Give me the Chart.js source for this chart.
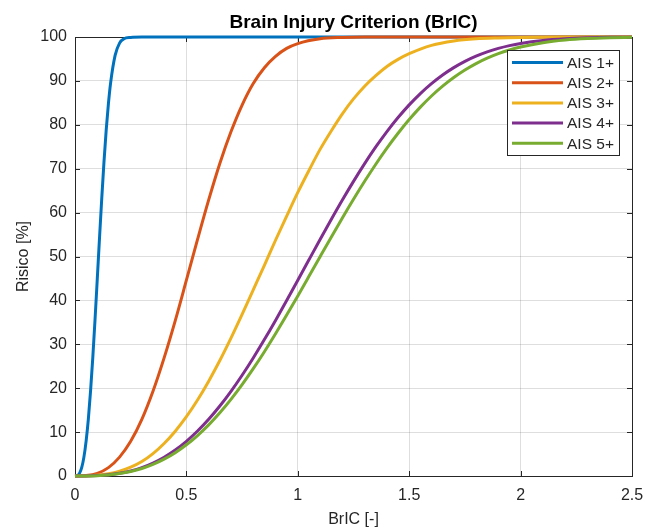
<!DOCTYPE html>
<html>
<head>
<meta charset="utf-8">
<script src="https://cdn.jsdelivr.net/npm/chart.js@4.4.1/dist/chart.umd.min.js"></script>
<style>
  html, body { margin: 0; padding: 0; background: #fff; }
  canvas { display: block; }
</style>
</head>
<body>
<canvas id="chart" width="645" height="532"></canvas>
<script>
// series labels and colours (MATLAB default order)
const chartTitle = 'Brain Injury Criterion (BrIC)';
const seriesLabels = ['AIS 1+', 'AIS 2+', 'AIS 3+', 'AIS 4+', 'AIS 5+'];
const seriesColors = ['#0072BD', '#D95319', '#EDB120', '#7E2F8E', '#77AC30'];

// BrIC values [-] and risk values [%]
const bricAis1 = [0, 0.01, 0.02, 0.03, 0.04, 0.05, 0.06, 0.07, 0.08, 0.09, 0.10, 0.11, 0.12, 0.13, 0.14, 0.15, 0.16, 0.18, 0.20, 0.22, 0.25, 0.30, 2.5];
const riskAis1 = [0, 0.1, 0.6, 1.9, 4.3, 8.0, 13.0, 19.5, 27.1, 35.7, 44.9, 54.2, 63.2, 71.5, 78.8, 84.8, 89.6, 95.8, 98.6, 99.6, 99.9, 100, 100];

const bricAis2 = [0, 0.05, 0.1, 0.15, 0.2, 0.25, 0.3, 0.35, 0.4, 0.45, 0.5, 0.55, 0.6, 0.65, 0.7, 0.75, 0.8, 0.85, 0.9, 0.95, 1.0, 1.1, 1.2, 1.3, 2.5];
const riskAis2 = [0, 0.1, 0.6, 1.9, 4.3, 7.9, 12.9, 19.3, 26.9, 35.4, 44.6, 53.9, 62.9, 71.2, 78.4, 84.5, 89.4, 93.0, 95.6, 97.4, 98.5, 99.6, 99.9, 100, 100];

const bricAis3 = [0, 0.05, 0.1, 0.15, 0.2, 0.25, 0.3, 0.35, 0.4, 0.45, 0.5, 0.55, 0.6, 0.65, 0.7, 0.75, 0.8, 0.85, 0.9, 0.95,
  1.0, 1.05, 1.1, 1.15, 1.2, 1.25, 1.3, 1.35, 1.4, 1.45, 1.5, 1.6, 1.7, 1.8, 1.9, 2.0, 2.2, 2.5];
const riskAis3 = [0, 0.02, 0.15, 0.5, 1.1, 2.0, 3.3, 5.1, 7.4, 10.2, 13.5, 17.3, 21.6, 26.3, 31.4, 36.8, 42.4, 48.0, 53.7, 59.2,
  64.6, 69.6, 74.4, 78.6, 82.5, 85.9, 88.8, 91.2, 93.3, 94.9, 96.2, 98.1, 99.1, 99.6, 99.8, 99.9, 100, 100];

const bricWide = [0, 0.05, 0.1, 0.15, 0.2, 0.25, 0.3, 0.35, 0.4, 0.45, 0.5, 0.55, 0.6, 0.65, 0.7, 0.75, 0.8, 0.85, 0.9, 0.95,
  1.0, 1.05, 1.1, 1.15, 1.2, 1.25, 1.3, 1.35, 1.4, 1.45, 1.5, 1.55, 1.6, 1.65, 1.7, 1.75, 1.8, 1.85, 1.9, 1.95,
  2.0, 2.1, 2.2, 2.3, 2.4, 2.5];
const riskAis4 = [0, 0.01, 0.09, 0.27, 0.61, 1.15, 1.91, 2.95, 4.28, 5.93, 7.91, 10.24, 12.92, 15.94, 19.29, 22.95, 26.89, 31.07, 35.44, 39.96,
  44.58, 49.24, 53.87, 58.43, 62.87, 67.12, 71.16, 74.95, 78.45, 81.65, 84.54, 87.12, 89.38, 91.35, 93.03, 94.46, 95.64, 96.62, 97.41, 98.04,
  98.54, 99.22, 99.61, 99.81, 99.92, 99.97];
const riskAis5 = [0, 0.01, 0.08, 0.24, 0.55, 1.03, 1.72, 2.65, 3.84, 5.32, 7.11, 9.22, 11.64, 14.39, 17.45, 20.81, 24.44, 28.31, 32.40, 36.66,
  41.03, 45.48, 49.96, 54.41, 58.79, 63.04, 67.13, 71.02, 74.68, 78.07, 81.19, 84.02, 86.56, 88.81, 90.78, 92.48, 93.94, 95.17, 96.20, 97.04,
  97.72, 98.70, 99.30, 99.64, 99.82, 99.92];

const seriesX = [bricAis1, bricAis2, bricAis3, bricWide, bricWide];
const seriesY = [riskAis1, riskAis2, riskAis3, riskAis4, riskAis5];

const axisColor = '#262626';
const fontFamily = '"Liberation Sans", Arial, Helvetica, sans-serif';
Chart.defaults.font.family = fontFamily;
Chart.defaults.color = axisColor;

// MATLAB-like box with inward tick marks on all four sides
const boxPlugin = {
  id: 'box',
  beforeDatasetsDraw(chart) {
    const { ctx, chartArea: a, scales } = chart;
    const len = 5;
    ctx.save();
    ctx.strokeStyle = axisColor;
    ctx.lineWidth = 1;
    ctx.beginPath();
    scales.x.ticks.forEach(t => {
      const px = Math.round(scales.x.getPixelForValue(t.value)) + 0.5;
      ctx.moveTo(px, a.bottom); ctx.lineTo(px, a.bottom - len);
      ctx.moveTo(px, a.top); ctx.lineTo(px, a.top + len);
    });
    scales.y.ticks.forEach(t => {
      const py = Math.round(scales.y.getPixelForValue(t.value)) + 0.5;
      ctx.moveTo(a.left, py); ctx.lineTo(a.left + len, py);
      ctx.moveTo(a.right, py); ctx.lineTo(a.right - len, py);
    });
    ctx.stroke();
    ctx.strokeRect(Math.round(a.left) + 0.5, Math.round(a.top) + 0.5,
      Math.round(a.right - a.left), Math.round(a.bottom - a.top));
    ctx.restore();
  },
  afterDraw(chart) {
    // title centred over the plot area
    const { ctx, chartArea: a } = chart;
    ctx.save();
    ctx.fillStyle = '#000';
    ctx.font = 'bold 19px ' + fontFamily;
    ctx.textAlign = 'center';
    ctx.textBaseline = 'middle';
    ctx.fillText(chartTitle, (a.left + a.right) / 2, 23);
    ctx.restore();
  }
};

// legend box in the upper right corner of the plot
const legendPlugin = {
  id: 'boxLegend',
  afterDraw(chart) {
    const { ctx, chartArea: a } = chart;
    const sets = chart.data.datasets;
    const w = 112, rowH = 20.2, h = 105;
    const x0 = a.right - 13 - w, y0 = a.top + 13;
    ctx.save();
    ctx.fillStyle = '#fff';
    ctx.fillRect(x0, y0, w, h);
    ctx.strokeStyle = axisColor;
    ctx.lineWidth = 1;
    ctx.strokeRect(Math.round(x0) + 0.5, Math.round(y0) + 0.5, w, h);
    ctx.font = '15.5px ' + fontFamily;
    ctx.textBaseline = 'middle';
    sets.forEach((ds, i) => {
      const y = y0 + 12.5 + i * rowH;
      ctx.strokeStyle = ds.borderColor;
      ctx.lineWidth = 3;
      ctx.beginPath();
      ctx.moveTo(x0 + 5, y);
      ctx.lineTo(x0 + 56, y);
      ctx.stroke();
      ctx.fillStyle = axisColor;
      ctx.fillText(ds.label, x0 + 60, y + 1);
    });
    ctx.restore();
  }
};

const datasets = seriesLabels.map((label, i) => ({
  label: label,
  data: seriesX[i].map((x, j) => ({ x: x, y: seriesY[i][j] })),
  borderColor: seriesColors[i],
  backgroundColor: seriesColors[i],
  borderWidth: 3,
  pointRadius: 0,
  cubicInterpolationMode: 'monotone',
  clip: false,
  order: seriesLabels.length - 1 - i,
}));

new Chart(document.getElementById('chart').getContext('2d'), {
  type: 'line',
  data: { datasets: datasets },
  options: {
    responsive: false,
    animation: false,
    layout: { padding: { left: 0, right: 13, top: 37, bottom: 0 } },
    plugins: {
      legend: { display: false },
      tooltip: { enabled: false },
      title: { display: false },
    },
    scales: {
      x: {
        type: 'linear',
        min: 0,
        max: 2.5,
        ticks: {
          stepSize: 0.5, font: { size: 16 }, padding: 10, color: axisColor,
          callback: (value) => String(value),
        },
        grid: { color: 'rgba(0,0,0,0.13)', drawTicks: false },
        border: { display: false },
        title: { display: true, text: 'BrIC [-]', font: { size: 16 }, color: axisColor, padding: { bottom: 3 } },
        afterFit: (scale) => { scale.height = 56; scale.paddingLeft = 0; scale.paddingRight = 0; },
      },
      y: {
        min: 0,
        max: 100,
        ticks: { stepSize: 10, font: { size: 16 }, padding: 8, color: axisColor },
        grid: { color: 'rgba(0,0,0,0.13)', drawTicks: false },
        border: { display: false },
        title: { display: true, text: 'Risico [%]', font: { size: 16 }, color: axisColor, padding: { top: 14 } },
        afterFit: (scale) => { scale.width = 75; scale.paddingTop = 0; scale.paddingBottom = 0; },
      },
    },
  },
  plugins: [boxPlugin, legendPlugin],
});
</script>
</body>
</html>
